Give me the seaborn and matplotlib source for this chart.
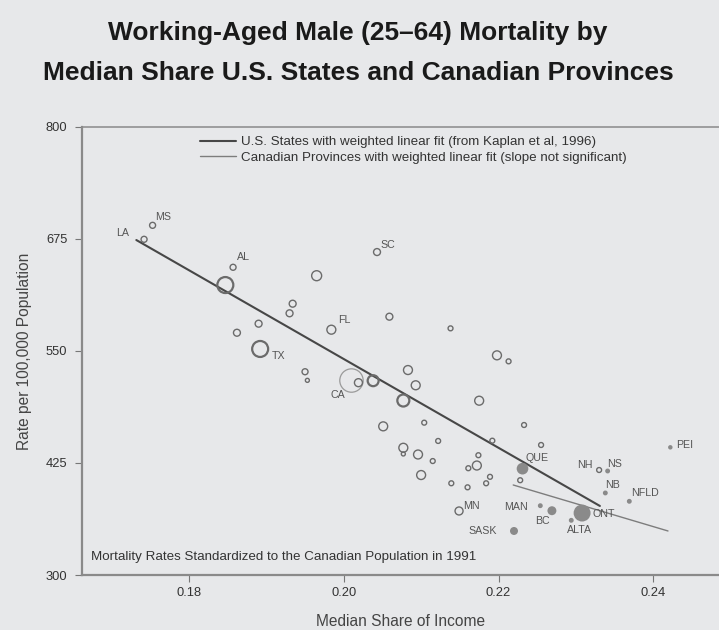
import numpy as np
import pandas as pd
import matplotlib
matplotlib.use("Agg")
import matplotlib.pyplot as plt
import seaborn as sns

# ---------------- data ----------------
us_share = [0.1742, 0.1753, 0.1857, 0.1847, 0.1965, 0.2043, 0.1934, 0.1930,
            0.1890, 0.1862, 0.1984, 0.2059, 0.2138, 0.1892, 0.1950, 0.1953,
            0.2010, 0.2019, 0.2038, 0.2083, 0.2093, 0.2077, 0.2175, 0.2198,
            0.2213, 0.2051, 0.2104, 0.2233, 0.2122, 0.2192, 0.2255, 0.2077,
            0.2077, 0.2096, 0.2115, 0.2174, 0.2172, 0.2161, 0.2100, 0.2189,
            0.2184, 0.2139, 0.2160, 0.2228, 0.2149, 0.2330]
us_rate = [674.4, 690.0, 643.2, 623.4, 633.8, 660.2, 602.6, 591.9,
           580.3, 570.2, 573.6, 588.1, 575.1, 552.1, 526.7, 517.1,
           516.9, 514.5, 516.7, 528.6, 511.6, 494.6, 494.4, 545.0,
           538.3, 465.8, 469.9, 467.3, 449.5, 449.8, 445.0, 441.9,
           435.0, 434.4, 427.1, 433.6, 422.1, 419.1, 411.5, 409.5,
           402.3, 402.3, 397.8, 405.7, 371.4, 417.1]
us_weight = [9, 9, 9, 64, 25, 12, 12, 12,
             12, 12, 20, 12, 6, 64, 9, 4,
             137, 16, 30, 20, 20, 36, 20, 20,
             6, 20, 6, 6, 6, 6, 6, 20,
             4, 20, 6, 6, 20, 6, 20, 6,
             6, 6, 6, 6, 16, 6]
us_label = ["LA", "MS", "AL", "", "", "SC", "", "",
            "", "", "FL", "", "", "TX", "", "",
            "CA", "", "", "", "", "", "", "",
            "", "", "", "", "", "", "", "",
            "", "", "", "", "", "", "", "",
            "", "", "", "", "MN", "NH"]

ca_share = [0.2231, 0.2341, 0.2338, 0.2369, 0.2422, 0.2254, 0.2269, 0.2308,
            0.2294, 0.2220]
ca_rate = [418.6, 416.0, 391.5, 382.2, 442.4, 377.3, 371.7, 369.1, 361.0, 349.1]
ca_weight = [34, 6, 6, 6, 5, 6, 20, 72, 6, 16]
ca_label = ["QUE", "NS", "NB", "NFLD", "PEI", "MAN", "BC", "ONT", "ALTA", "SASK"]

us_fit_x = [0.1732, 0.2331]
us_fit_y = [673.6, 377.0]
ca_fit_x = [0.2219, 0.2419]
ca_fit_y = [400.4, 349.1]

x_ticks = [0.18, 0.20, 0.22, 0.24]
y_ticks = [300, 425, 550, 675, 800]

title = "Working-Aged Male (25\u201364) Mortality by\nMedian Share U.S. States and Canadian Provinces"
us_legend = "U.S. States with weighted linear fit (from Kaplan et al, 1996)"
ca_legend = "Canadian Provinces with weighted linear fit (slope not significant)"
note = "Mortality Rates Standardized to the Canadian Population in 1991"
x_label = "Median Share of Income"
y_label = "Rate per 100,000 Population"

# label offsets in pixels (dx, dy up)
label_off = {
    "LA": (-21, 6), "MS": (11, 8), "AL": (10, 10), "SC": (11, 7), "FL": (13, 10),
    "TX": (18, -7), "CA": (-14, -14.5), "MN": (12, 5), "NH": (-14, 5),
    "QUE": (15, 11), "NS": (7, 7), "NB": (7, 8), "NFLD": (16, 8), "PEI": (14, 2),
    "MAN": (-24, -1), "BC": (-9, -10), "ONT": (22, -1), "ALTA": (8, -10), "SASK": (-31, 0),
}

# ---------------- style ----------------
BG = "#e7e8ea"
sns.set_theme(style="ticks", rc={
    "axes.facecolor": BG, "figure.facecolor": BG, "savefig.facecolor": BG,
})
plt.rcParams["font.family"] = ["Liberation Sans", "DejaVu Sans"]

W, H = 719, 630
fig = plt.figure(figsize=(W / 100, H / 100), dpi=100)
L, R, T, B = 82, 719, 126.7, 575
ax = fig.add_axes([L / W, (H - B) / H, (R - L) / W, (B - T) / H])
ax.set_facecolor(BG)

us_df = pd.DataFrame({"share": us_share, "rate": us_rate, "weight": us_weight, "label": us_label})
ca_df = pd.DataFrame({"share": ca_share, "rate": ca_rate, "weight": ca_weight, "label": ca_label})

PX2 = 2.07  # scatter area per (px radius)^2
wmax = max(max(us_weight), max(ca_weight))
sizes = (0, PX2 * wmax)

# fit lines
sns.lineplot(x=us_fit_x, y=us_fit_y, ax=ax, color="#474747", linewidth=1.5, label=us_legend)
sns.lineplot(x=ca_fit_x, y=ca_fit_y, ax=ax, color="#7d7d7d", linewidth=1.0, label=ca_legend)

# US states (open circles)
sns.scatterplot(data=us_df, x="share", y="rate", size="weight", sizes=sizes,
                size_norm=(0, wmax), color="#6e6e6e", legend=False, ax=ax, zorder=3)
coll = ax.collections[-1]
coll.set_facecolor("none")
w = np.array(us_weight)
edge = ["#9a9a9a" if wi > 100 else "#6b6b6b" for wi in w]
lws = [0.9 if wi > 100 else (1.6 if wi >= 30 else 1.0) for wi in w]
coll.set_edgecolor(edge)
coll.set_linewidths(lws)

# Canadian provinces (filled)
sns.scatterplot(data=ca_df, x="share", y="rate", size="weight", sizes=sizes,
                size_norm=(0, wmax), color="#8a8a8a", linewidth=0, legend=False, ax=ax, zorder=3)

# labels
for df in (us_df, ca_df):
    for _, r in df.iterrows():
        if r["label"]:
            dx, dy = label_off[r["label"]]
            ax.annotate(r["label"], (r["share"], r["rate"]), xytext=(dx * 0.72, dy * 0.72),
                        textcoords="offset points", ha="center", va="center",
                        fontsize=7.7, color="#555555")

ax.set_xlim(0.16618, 0.24849)
ax.set_ylim(300, 800)
ax.set_xticks(x_ticks)
ax.set_xticklabels([f"{v:.2f}" for v in x_ticks])
ax.set_yticks(y_ticks)
ax.set_yticklabels([str(v) for v in y_ticks])
ax.tick_params(axis="both", direction="out", length=5, width=0.8, color="#777777",
               labelsize=9.3, labelcolor="#333333")
ax.tick_params(axis="x", pad=3.8)
ax.tick_params(axis="y", pad=5.5)
for side in ("left", "bottom"):
    ax.spines[side].set_color("#8a8a8a")
    ax.spines[side].set_linewidth(1.6)
ax.spines["top"].set_visible(True)
ax.spines["top"].set_color("#8a8a8a")
ax.spines["top"].set_linewidth(1.1)
ax.spines["right"].set_visible(False)

ax.set_xlabel(x_label, fontsize=11.2, color="#444444", labelpad=11)
ax.set_ylabel(y_label, fontsize=11.2, color="#444444", labelpad=10)

leg = ax.legend(loc="upper left", bbox_to_anchor=((200 - L) / (R - L), (B - 136) / (B - T)),
                frameon=False, fontsize=9.6, handlelength=2.7, handletextpad=0.38,
                borderpad=0, borderaxespad=0, labelspacing=0.22)
for t in leg.get_texts():
    t.set_color("#333333")

ax.text((90.7 - L) / (R - L), (B - 556.7) / (B - T), note, transform=ax.transAxes,
        fontsize=9.6, color="#333333", ha="left", va="center")

fig.text(358 / W, 1 - 53 / H, title, ha="center", va="center", fontsize=19,
         fontweight="bold", color="#1a1a1a", linespacing=1.8,
         family=["Liberation Sans Narrow", "Liberation Sans", "DejaVu Sans"])

fig.savefig("out.png", dpi=100)
